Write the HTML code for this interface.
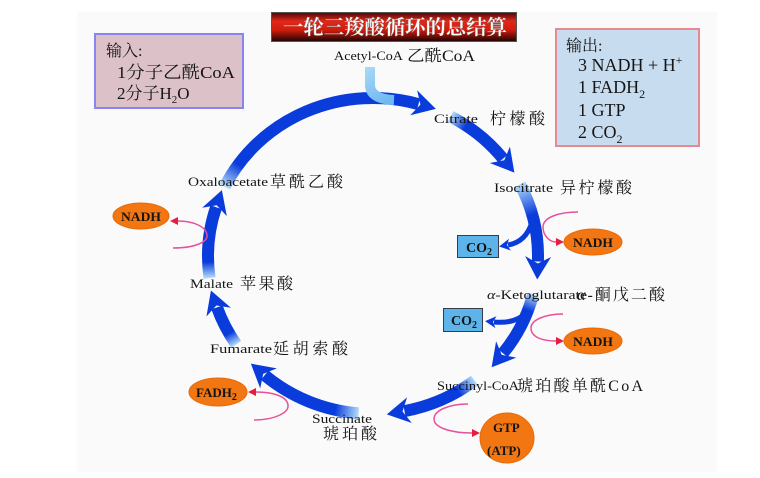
<!DOCTYPE html>
<html><head><meta charset="utf-8">
<style>
html,body{margin:0;padding:0;background:#fff;}
svg{display:block;}
text{font-family:"Liberation Serif","Noto Serif CJK SC",serif;fill:#151515;}
</style></head>
<body>
<svg width="760" height="478" viewBox="0 0 760 478" xmlns="http://www.w3.org/2000/svg">
<defs>
  <marker id="ah" markerUnits="userSpaceOnUse" viewBox="-4 -14 28 28" markerWidth="28" markerHeight="28" refX="2" refY="0" orient="auto">
    <path d="M-3,-13 L20,0 L-3,13 L4,0 Z" fill="#0a3cdc"/>
  </marker>
  <marker id="ah2" markerUnits="userSpaceOnUse" viewBox="-2 -7 14 14" markerWidth="14" markerHeight="14" refX="1" refY="0" orient="auto">
    <path d="M-1,-6 L10,0 L-1,6 L2,0 Z" fill="#0a3cdc"/>
  </marker>
  <marker id="pa" markerUnits="userSpaceOnUse" viewBox="-1 -5 10 10" markerWidth="10" markerHeight="10" refX="0" refY="0" orient="auto">
    <path d="M0,-4 L8,0 L0,4 Z" fill="#e81c3c"/>
  </marker>
  <linearGradient id="title" x1="0" y1="0" x2="0" y2="1">
    <stop offset="0" stop-color="#4a0806"/>
    <stop offset="0.3" stop-color="#e0281a"/>
    <stop offset="0.6" stop-color="#d41c0c"/>
    <stop offset="1" stop-color="#1c0404"/>
  </linearGradient>
  <linearGradient id="acg" gradientUnits="userSpaceOnUse" x1="370" y1="66" x2="392" y2="100">
    <stop offset="0" stop-color="#a8d8f8"/>
    <stop offset="1" stop-color="#6cb8f0"/>
  </linearGradient>
  <linearGradient id="g1" gradientUnits="userSpaceOnUse" x1="224.7" y1="186.7" x2="239" y2="165"><stop offset="0" stop-color="#b4dcf8"/><stop offset="1" stop-color="#0a3cdc"/></linearGradient>
  <linearGradient id="g2" gradientUnits="userSpaceOnUse" x1="450.5" y1="116.5" x2="466" y2="126"><stop offset="0" stop-color="#b4dcf8"/><stop offset="1" stop-color="#0a3cdc"/></linearGradient>
  <linearGradient id="g3" gradientUnits="userSpaceOnUse" x1="520.0" y1="184.3" x2="531" y2="215"><stop offset="0" stop-color="#b4dcf8"/><stop offset="1" stop-color="#0a3cdc"/></linearGradient>
  <linearGradient id="g4" gradientUnits="userSpaceOnUse" x1="533.1" y1="294.2" x2="527" y2="310"><stop offset="0" stop-color="#b4dcf8"/><stop offset="1" stop-color="#0a3cdc"/></linearGradient>
  <linearGradient id="g5" gradientUnits="userSpaceOnUse" x1="474.6" y1="380.5" x2="458" y2="391"><stop offset="0" stop-color="#b4dcf8"/><stop offset="1" stop-color="#0a3cdc"/></linearGradient>
  <linearGradient id="g6" gradientUnits="userSpaceOnUse" x1="358.6" y1="413.4" x2="335" y2="410"><stop offset="0" stop-color="#b4dcf8"/><stop offset="1" stop-color="#0a3cdc"/></linearGradient>
  <linearGradient id="g7" gradientUnits="userSpaceOnUse" x1="236.2" y1="344.4" x2="230" y2="333"><stop offset="0" stop-color="#b4dcf8"/><stop offset="1" stop-color="#0a3cdc"/></linearGradient>
  <linearGradient id="g8" gradientUnits="userSpaceOnUse" x1="209.6" y1="278.0" x2="209" y2="262"><stop offset="0" stop-color="#b4dcf8"/><stop offset="1" stop-color="#0a3cdc"/></linearGradient>
</defs>

<!-- background panel -->
<rect x="77" y="12" width="640" height="460" fill="#fafafa"/>

<!-- title banner -->
<rect x="271.5" y="12.5" width="245" height="29" fill="url(#title)" stroke="#555" stroke-width="1"/>
<text x="283" y="34" font-size="20" textLength="224" lengthAdjust="spacingAndGlyphs" style="fill:#fff;font-family:'Noto Serif CJK SC',serif;font-weight:bold;" stroke="#888" stroke-width="0.3">一轮三羧酸循环的总结算</text>

<!-- input box -->
<rect x="95" y="34" width="148" height="74" fill="#dcc2c8" stroke="#8a84f0" stroke-width="2"/>
<text x="106" y="56" font-size="16">输入:</text>
<text x="117" y="78" font-size="17" textLength="118" lengthAdjust="spacingAndGlyphs">1分子乙酰CoA</text>
<text x="117" y="99" font-size="17">2分子H<tspan font-size="11" dy="4">2</tspan><tspan dy="-4">O</tspan></text>

<!-- output box -->
<rect x="556" y="29" width="143" height="117" fill="#c8dcf0" stroke="#e88890" stroke-width="2"/>
<text x="566" y="51" font-size="16">输出:</text>
<text x="578" y="71" font-size="18">3 NADH + H<tspan font-size="12" dy="-7">+</tspan></text>
<text x="578" y="93" font-size="18">1 FADH<tspan font-size="12" dy="5">2</tspan></text>
<text x="578" y="116" font-size="18">1 GTP</text>
<text x="578" y="138" font-size="18">2 CO<tspan font-size="12" dy="5">2</tspan></text>

<!-- cycle arcs -->
<g fill="none" stroke-width="12" marker-end="url(#ah)">
  <path d="M224.7,186.7 A165,158 0 0 1 418.5,104.1" stroke="url(#g1)"/>
  <path d="M450.5,116.5 A165,158 0 0 1 503.0,158.7" stroke="url(#g2)"/>
  <path d="M520.0,184.3 A165,158 0 0 1 537.9,261.5" stroke="url(#g3)"/>
  <path d="M533.1,294.2 A165,158 0 0 1 503.0,353.3" stroke="url(#g4)"/>
  <path d="M474.6,380.5 A165,158 0 0 1 404.5,411.1" stroke="url(#g5)"/>
  <path d="M358.6,413.4 A165,158 0 0 1 264.7,375.2" stroke="url(#g6)"/>
  <path d="M236.2,344.4 A165,158 0 0 1 217.0,307.4" stroke="url(#g7)"/>
  <path d="M209.6,278.0 A165,158 0 0 1 216.1,207.2" stroke="url(#g8)"/>
</g>

<!-- acetyl-CoA input -->
<path d="M370,67 L370,86 Q371,99 394,100" fill="none" stroke="url(#acg)" stroke-width="10"/>

<!-- CO2 branches -->
<g fill="none" stroke="#0a3cdc" stroke-width="5" marker-end="url(#ah2)">
  <path d="M532,222 Q526,242 508,245"/>
  <path d="M527,312 Q516,324 494,322"/>
</g>
<rect x="457.5" y="235.5" width="41" height="22" fill="#5cb4ea" stroke="#3a3a4a" stroke-width="1"/>
<text x="466" y="252" font-size="14" font-weight="bold">CO<tspan font-size="10" dy="3">2</tspan></text>
<rect x="443.5" y="308.5" width="39" height="23" fill="#5cb4ea" stroke="#3a3a4a" stroke-width="1"/>
<text x="451" y="325" font-size="14" font-weight="bold">CO<tspan font-size="10" dy="3">2</tspan></text>

<!-- pink curves -->
<g fill="none" stroke="#e8509a" stroke-width="1.5" marker-end="url(#pa)">
  <path d="M173,248 C195,248 208,242 207,235 C206,226 192,221 178,221"/>
  <path d="M578,212 C560,212 543,217 543,227 C543,236 550,242 556,242"/>
  <path d="M563,314 C545,314 531,320 531,328 C531,337 542,341 556,341"/>
  <path d="M468,404 C450,404 434,410 434,419 C434,428 452,433 472,433"/>
  <path d="M254,420 C274,420 289,413 288,405 C287,396 272,392 256,392"/>
</g>

<!-- orange ellipses -->
<g fill="#f27612" stroke="#e86a08" stroke-width="1">
  <ellipse cx="141" cy="216" rx="28" ry="13"/>
  <ellipse cx="593" cy="242" rx="29" ry="13"/>
  <ellipse cx="593" cy="341" rx="29" ry="13"/>
  <ellipse cx="218" cy="392" rx="29" ry="14"/>
  <ellipse cx="507" cy="438" rx="27" ry="25"/>
</g>
<g font-size="13" font-weight="bold">
  <text x="121" y="221" textLength="40" lengthAdjust="spacingAndGlyphs">NADH</text>
  <text x="573" y="247" textLength="40" lengthAdjust="spacingAndGlyphs">NADH</text>
  <text x="573" y="346" textLength="40" lengthAdjust="spacingAndGlyphs">NADH</text>
  <text x="196" y="397">FADH<tspan font-size="10" dy="3">2</tspan></text>
  <text x="493" y="432">GTP</text>
  <text x="487" y="455">(ATP)</text>
</g>

<!-- metabolite labels -->
<g font-size="13">
  <text x="334" y="60" textLength="69" lengthAdjust="spacingAndGlyphs">Acetyl-CoA</text>
  <text x="407" y="61" font-size="16" textLength="68" lengthAdjust="spacingAndGlyphs">乙酰CoA</text>

  <text x="188" y="186" textLength="80" lengthAdjust="spacingAndGlyphs">Oxaloacetate</text>
  <text x="270" y="187" font-size="16" textLength="73" lengthAdjust="spacing">草酰乙酸</text>

  <text x="434" y="123" textLength="44" lengthAdjust="spacingAndGlyphs">Citrate</text>
  <text x="490" y="124" font-size="16" textLength="55" lengthAdjust="spacing">柠檬酸</text>

  <text x="494" y="192" textLength="59" lengthAdjust="spacingAndGlyphs">Isocitrate</text>
  <text x="560" y="193" font-size="16" textLength="72" lengthAdjust="spacing">异柠檬酸</text>

  <text x="487" y="299" textLength="100" lengthAdjust="spacingAndGlyphs"><tspan font-style="italic">α</tspan>-Ketoglutarate</text>
  <text x="577" y="300" font-size="16" textLength="88" lengthAdjust="spacing"><tspan font-style="italic">α</tspan>-酮戊二酸</text>

  <text x="437" y="390" textLength="82" lengthAdjust="spacingAndGlyphs">Succinyl-CoA</text>
  <text x="517" y="391" font-size="16" textLength="126" lengthAdjust="spacing">琥珀酸单酰CoA</text>

  <text x="312" y="423" textLength="60" lengthAdjust="spacingAndGlyphs">Succinate</text>
  <text x="323" y="439" font-size="16" textLength="54" lengthAdjust="spacing">琥珀酸</text>

  <text x="210" y="353" textLength="62" lengthAdjust="spacingAndGlyphs">Fumarate</text>
  <text x="273" y="354" font-size="16" textLength="75" lengthAdjust="spacing">延胡索酸</text>

  <text x="190" y="288" textLength="43" lengthAdjust="spacingAndGlyphs">Malate</text>
  <text x="240" y="289" font-size="16" textLength="53" lengthAdjust="spacing">苹果酸</text>
</g>
</svg>
</body></html>
